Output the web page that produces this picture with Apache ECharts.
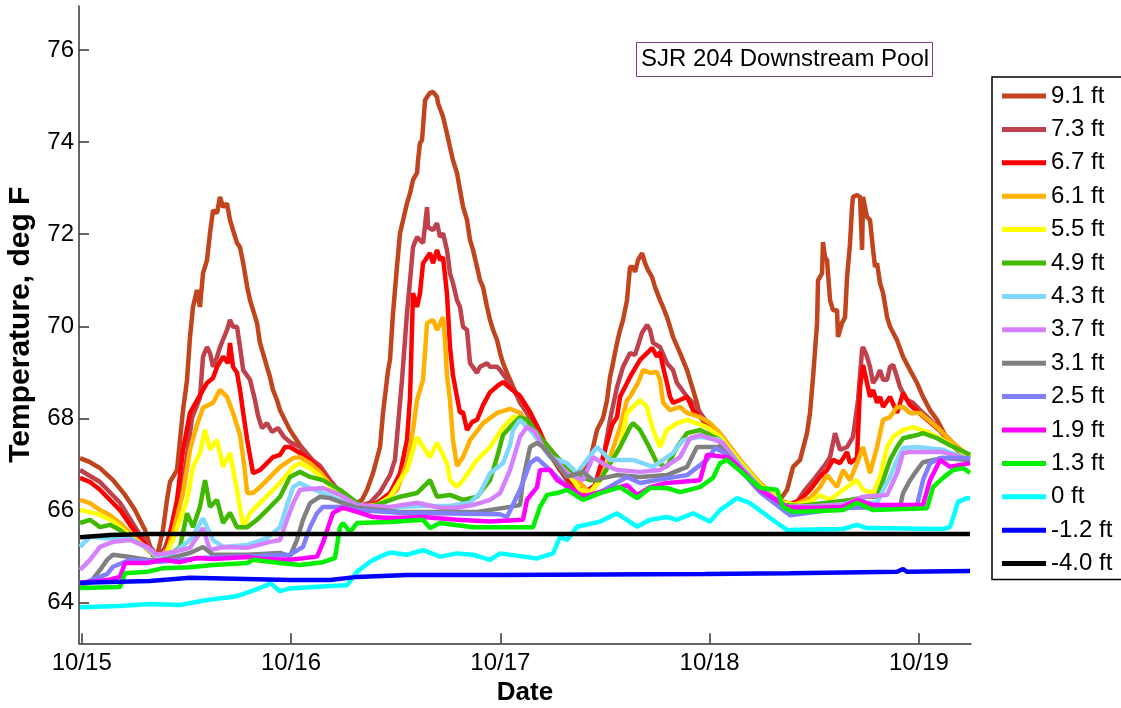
<!DOCTYPE html>
<html>
<head>
<meta charset="utf-8">
<script src="https://cdn.jsdelivr.net/npm/echarts@6/dist/echarts.min.js"></script>
<style>
  html, body { margin: 0; padding: 0; background: #fff; }
  #chart { width: 1121px; height: 708px; }
</style>
</head>
<body>
<div id="chart"></div>
<script>
// Sensor depths (legend order = draw order) and their line colours
const depthLabels = ['9.1 ft', '7.3 ft', '6.7 ft', '6.1 ft', '5.5 ft', '4.9 ft', '4.3 ft', '3.7 ft',
  '3.1 ft', '2.5 ft', '1.9 ft', '1.3 ft', '0 ft', '-1.2 ft', '-4.0 ft'];
const depthColors = ['#c2441c', '#c0404c', '#ff0000', '#ffb000', '#ffff00', '#40b800', '#80d8ff', '#d580ff',
  '#808080', '#8080ff', '#ff00ff', '#00f000', '#00ffff', '#0000ff', '#000000'];

// Tick positions (hours since 10/15 00:00) and labels
const dateTickHours = [0, 24, 48, 72, 96];
const dateTickLabels = ['10/15', '10/16', '10/17', '10/18', '10/19'];
const tempTicks = [64, 66, 68, 70, 72, 74, 76];

// Readings: [hours since 10/15 00:00, temperature deg F]
const d91 = [[-0.19,67.14],[0.95,67.05],[2.10,66.92],[3.59,66.66],[4.97,66.34],[6.11,66.01],[7.26,65.58],[8.18,65.01],[8.75,65.10],[9.32,65.58],[9.78,66.23],[10.12,66.62],[10.93,66.88],[11.27,67.53],[11.62,68.18],[12.08,68.84],[12.42,69.77],[12.76,70.42],[13.22,70.79],[13.56,70.42],[13.91,71.15],[14.37,71.44],[14.71,72.02],[15.06,72.52],[15.52,72.46],[15.86,72.81],[16.21,72.59],[16.66,72.67],[17.00,72.31],[17.35,72.09],[17.81,71.81],[18.15,71.72],[18.52,71.37],[18.98,70.85],[19.30,70.57],[19.65,70.35],[20.10,70.07],[20.44,69.64],[20.79,69.42],[21.24,69.12],[21.59,68.90],[21.93,68.62],[22.39,68.40],[22.74,68.18],[23.88,67.75],[25.03,67.42],[26.18,67.16],[27.32,66.88],[28.47,66.62],[29.62,66.40],[30.77,66.23],[31.57,66.17],[32.14,66.23],[32.72,66.45],[33.40,66.81],[34.21,67.38],[34.55,68.12],[35.13,69.05],[35.35,69.27],[35.70,70.29],[36.15,71.29],[36.50,72.02],[37.30,72.67],[37.65,72.89],[37.99,73.18],[38.45,73.33],[38.57,73.61],[38.79,73.98],[39.02,74.04],[39.14,74.33],[39.37,74.91],[39.60,74.98],[39.94,75.07],[40.28,75.09],[40.74,74.98],[40.85,74.85],[41.43,74.55],[41.88,74.19],[42.23,73.89],[42.57,73.61],[43.03,73.33],[43.38,72.96],[43.72,72.60],[44.18,72.31],[44.53,71.87],[44.87,71.66],[45.33,71.29],[45.67,71.00],[46.02,70.85],[46.48,70.42],[46.82,70.14],[47.17,69.92],[47.63,69.70],[47.97,69.42],[48.31,69.20],[48.77,68.99],[49.11,68.84],[50.26,68.34],[51.06,68.12],[52.55,67.60],[54.51,67.16],[55.99,66.73],[56.34,66.66],[57.14,66.81],[58.29,67.10],[59.09,67.75],[59.78,68.01],[60.24,68.40],[60.58,68.90],[60.92,69.20],[61.38,69.64],[61.73,69.92],[62.07,70.14],[62.53,70.57],[62.87,71.29],[63.22,71.29],[63.45,71.18],[63.79,71.44],[64.25,71.59],[64.60,71.37],[64.94,71.22],[65.40,71.07],[65.74,70.85],[66.31,70.57],[66.66,70.42],[67.11,70.20],[67.46,69.99],[67.80,69.77],[68.61,69.42],[69.41,69.05],[70.10,68.62],[70.55,68.34],[70.90,68.04],[72.05,67.75],[74.34,67.21],[76.63,66.71],[78.93,66.34],[80.07,66.23],[80.88,66.45],[81.57,66.95],[82.37,67.10],[83.17,67.68],[83.51,68.12],[83.86,68.90],[84.32,70.07],[84.43,71.00],[84.89,71.15],[85.00,71.83],[85.23,71.50],[85.46,71.44],[85.81,70.57],[86.15,70.35],[86.61,70.35],[86.72,69.77],[87.18,70.07],[87.53,70.20],[87.76,71.07],[88.10,71.80],[88.33,72.59],[88.44,72.81],[88.90,72.85],[89.25,72.81],[89.48,71.66],[89.59,72.81],[90.05,72.37],[90.39,72.31],[90.74,71.66],[90.97,71.29],[91.20,71.37],[91.54,70.94],[91.89,70.72],[92.35,70.20],[92.69,69.99],[93.49,69.70],[94.18,69.34],[94.98,69.05],[95.78,68.77],[96.47,68.47],[97.27,68.18],[98.08,67.97],[98.99,67.64],[100.14,67.38],[101.06,67.21],[101.86,67.14]];

const d73 = [[-0.19,66.88],[2.10,66.62],[4.39,66.17],[6.69,65.47],[8.75,65.01],[9.55,65.19],[10.70,65.80],[11.85,66.88],[12.65,68.01],[13.56,68.45],[13.91,69.34],[14.37,69.55],[14.71,69.42],[15.06,69.12],[15.52,69.34],[15.86,69.55],[16.66,69.92],[17.00,70.14],[17.35,69.99],[17.81,69.99],[18.15,69.55],[18.52,69.05],[19.30,68.84],[19.87,68.40],[20.21,68.07],[20.67,67.79],[21.24,67.90],[21.82,67.71],[22.51,67.79],[23.19,67.60],[23.88,67.49],[25.03,67.38],[26.18,67.14],[27.32,66.97],[28.47,66.66],[29.62,66.40],[30.77,66.19],[31.91,66.10],[33.06,66.17],[34.21,66.40],[35.35,66.77],[35.92,67.10],[36.73,68.84],[37.30,70.29],[37.65,71.00],[37.99,71.72],[38.45,71.94],[38.79,71.87],[39.14,71.81],[39.60,72.59],[39.71,72.15],[40.28,72.09],[40.74,72.24],[41.09,71.94],[41.43,72.02],[41.88,71.66],[42.23,71.15],[42.57,70.94],[43.03,70.57],[43.38,70.42],[43.72,69.99],[44.18,69.92],[44.53,69.20],[45.33,68.99],[45.67,69.12],[46.48,69.20],[46.82,69.12],[47.63,69.12],[47.97,69.05],[48.77,68.84],[50.26,68.40],[51.41,68.01],[52.55,67.60],[53.70,67.21],[54.85,66.88],[55.99,66.55],[57.14,66.34],[58.06,66.27],[58.86,66.55],[59.78,67.10],[60.58,67.97],[61.38,68.68],[62.07,69.12],[62.87,69.42],[63.45,69.38],[64.25,69.86],[64.82,70.03],[65.17,69.92],[65.51,69.64],[66.31,69.55],[67.11,69.20],[67.80,69.05],[68.26,68.77],[68.61,68.68],[69.41,68.47],[70.33,68.29],[71.47,67.97],[73.19,67.53],[75.49,66.99],[77.78,66.51],[80.07,66.17],[81.80,66.12],[82.94,66.45],[84.09,66.71],[85.23,66.99],[85.81,67.16],[86.38,67.68],[86.95,67.32],[87.76,67.38],[88.44,67.60],[89.02,68.40],[89.48,69.49],[89.59,69.55],[90.05,69.34],[90.39,69.12],[90.74,68.77],[91.20,68.90],[91.54,69.05],[91.89,68.84],[92.35,68.84],[92.69,69.12],[93.04,69.16],[93.49,68.90],[93.83,68.68],[94.64,68.40],[95.32,68.34],[96.13,68.18],[96.93,68.04],[97.85,67.86],[98.99,67.60],[100.14,67.36],[101.06,67.21],[101.86,67.14]];

const d67 = [[-0.19,66.71],[0.95,66.62],[2.10,66.45],[3.25,66.23],[4.39,66.01],[5.54,65.69],[6.69,65.40],[7.83,65.14],[8.98,64.97],[9.55,65.01],[10.12,65.51],[10.93,66.23],[11.62,67.32],[12.42,68.12],[13.91,68.62],[14.37,68.77],[15.06,68.88],[15.52,69.12],[16.21,69.34],[16.78,69.20],[17.00,69.64],[17.35,69.12],[17.81,68.99],[18.15,68.62],[18.52,68.12],[18.98,67.53],[19.65,66.81],[20.44,66.88],[21.24,67.03],[21.93,67.16],[22.74,67.21],[23.31,67.38],[23.88,67.38],[25.03,67.25],[26.18,67.10],[27.32,66.88],[28.47,66.60],[29.62,66.34],[30.77,66.17],[31.91,66.08],[33.06,66.12],[33.86,66.17],[35.35,66.38],[36.50,66.81],[37.30,67.53],[37.65,68.47],[37.99,70.72],[38.45,70.42],[38.79,70.72],[39.14,71.37],[39.94,71.59],[40.28,71.37],[40.74,71.66],[41.09,71.44],[41.43,71.50],[41.88,70.72],[42.23,69.55],[42.57,68.94],[43.03,68.47],[43.38,68.12],[43.72,68.14],[44.18,67.75],[44.76,67.92],[45.33,67.97],[46.02,68.29],[46.82,68.57],[47.63,68.70],[48.31,68.79],[49.11,68.66],[50.26,68.49],[51.41,68.14],[52.55,67.71],[53.70,67.21],[54.85,66.88],[55.99,66.66],[56.91,66.51],[57.71,66.40],[58.86,66.55],[60.01,67.32],[60.81,67.86],[61.38,68.03],[61.73,68.47],[62.53,68.77],[62.87,68.90],[64.02,69.27],[64.82,69.42],[65.40,69.53],[65.97,69.34],[66.31,69.44],[66.66,69.12],[67.11,68.77],[67.46,68.47],[67.80,68.34],[68.61,68.40],[69.41,68.47],[70.10,68.18],[70.90,68.03],[72.05,67.86],[73.19,67.60],[75.49,67.05],[77.78,66.55],[80.07,66.19],[81.22,66.14],[82.37,66.23],[83.51,66.45],[84.66,66.73],[85.46,66.88],[86.15,67.10],[86.95,67.03],[87.76,67.27],[88.10,67.03],[88.90,67.14],[89.25,68.68],[89.59,69.16],[90.05,68.77],[90.39,68.47],[90.74,68.62],[91.20,68.34],[91.54,68.47],[91.89,68.25],[92.69,68.47],[93.49,68.12],[94.18,68.55],[94.98,68.29],[95.78,68.16],[96.93,67.97],[98.76,67.68],[100.37,67.38],[101.86,67.16]];

const d61 = [[-0.19,66.23],[0.95,66.16],[2.10,66.01],[3.25,65.90],[4.39,65.73],[5.54,65.51],[6.69,65.30],[7.83,65.10],[8.98,64.99],[9.78,65.14],[10.47,65.51],[11.62,66.38],[12.42,67.32],[13.22,67.86],[13.91,68.23],[15.06,68.34],[15.86,68.62],[16.66,68.47],[17.35,68.12],[18.15,67.64],[18.63,66.99],[18.98,66.38],[19.65,66.38],[20.44,66.51],[21.24,66.66],[22.74,66.95],[24.25,67.14],[25.03,67.16],[26.18,67.03],[27.32,66.84],[28.47,66.58],[29.62,66.34],[30.77,66.17],[31.91,66.08],[33.06,66.10],[34.55,66.17],[36.15,66.45],[37.30,67.03],[37.99,67.75],[38.45,68.40],[39.14,68.84],[39.60,70.07],[40.28,70.14],[40.74,69.92],[41.43,70.20],[41.66,69.70],[41.88,68.94],[42.23,68.40],[42.57,67.53],[43.03,66.97],[43.72,67.16],[44.53,67.53],[46.02,67.90],[47.63,68.12],[49.11,68.21],[50.26,68.12],[51.75,67.75],[53.70,67.32],[55.65,66.88],[57.14,66.60],[58.29,66.38],[59.43,66.66],[60.58,67.16],[61.73,67.81],[62.53,68.40],[62.87,68.47],[63.79,68.77],[64.37,69.05],[65.17,68.99],[65.97,69.01],[66.31,68.84],[66.66,68.34],[67.46,68.18],[68.61,68.25],[69.41,68.12],[70.90,68.03],[72.05,67.90],[73.19,67.68],[75.49,67.10],[77.78,66.60],[80.07,66.23],[81.57,66.12],[83.51,66.27],[84.66,66.51],[85.46,66.77],[86.61,66.51],[87.30,66.88],[88.10,66.66],[88.90,67.03],[89.59,67.38],[90.39,66.81],[91.20,67.38],[91.89,67.97],[92.69,68.03],[93.49,68.25],[94.18,68.25],[94.98,68.12],[96.13,68.12],[98.08,67.81],[99.57,67.53],[101.86,67.16]];

const d55 = [[-0.19,66.01],[0.95,65.97],[2.10,65.90],[3.25,65.80],[4.39,65.64],[6.11,65.36],[7.49,65.19],[8.98,64.93],[9.78,65.10],[10.47,65.36],[11.27,65.80],[12.08,66.23],[12.76,66.95],[13.56,67.25],[14.14,67.75],[14.71,67.32],[15.52,67.53],[16.21,66.95],[17.00,67.25],[17.81,66.45],[18.52,65.64],[19.30,65.95],[20.79,66.23],[22.74,66.60],[24.25,66.95],[25.03,67.03],[26.18,66.92],[27.32,66.75],[28.47,66.53],[29.62,66.32],[30.77,66.17],[31.91,66.08],[33.86,66.12],[35.35,66.30],[36.50,66.66],[37.30,66.88],[38.45,67.60],[39.14,67.38],[39.94,67.16],[40.74,67.47],[41.88,67.03],[42.23,66.66],[43.03,66.51],[43.72,66.66],[45.33,67.10],[46.82,67.38],[48.31,67.81],[49.45,68.03],[50.60,68.01],[52.21,67.68],[54.05,67.16],[56.34,66.66],[57.14,66.45],[58.29,66.40],[59.43,66.66],[60.58,67.03],[61.73,67.38],[62.53,68.12],[63.22,68.25],[64.02,68.40],[64.82,68.25],[65.51,67.75],[66.31,67.38],[67.11,67.75],[68.26,67.90],[69.41,67.97],[71.70,67.81],[73.19,67.60],[75.49,67.05],[77.78,66.55],[80.42,66.17],[82.03,66.12],[83.51,66.19],[84.66,66.34],[85.81,66.23],[87.30,66.45],[88.90,66.66],[89.59,66.45],[90.74,66.38],[91.54,66.73],[92.35,67.38],[93.04,67.60],[94.18,67.75],[95.32,67.81],[96.93,67.71],[98.76,67.53],[101.86,67.16]];

const d49 = [[-0.19,65.73],[0.95,65.80],[2.10,65.64],[3.25,65.69],[4.39,65.58],[5.89,65.36],[7.49,65.19],[8.98,64.93],[10.12,65.04],[11.27,65.21],[12.08,65.94],[12.76,65.64],[13.56,66.08],[14.14,66.66],[14.71,66.08],[15.52,66.23],[16.21,65.73],[17.00,65.95],[17.81,65.64],[18.98,65.64],[20.10,65.80],[21.24,66.01],[22.74,66.30],[23.88,66.73],[25.03,66.84],[26.18,66.73],[27.66,66.66],[29.62,66.45],[31.57,66.17],[32.72,66.06],[34.55,66.17],[36.50,66.30],[38.45,66.38],[39.94,66.66],[40.74,66.30],[42.23,66.34],[43.72,66.23],[45.33,66.30],[46.82,66.66],[47.63,67.16],[48.31,67.64],[49.11,67.81],[50.26,68.03],[51.06,67.97],[52.55,67.60],[54.05,67.25],[55.65,66.95],[57.14,66.73],[58.29,66.66],[59.43,66.66],[61.73,67.38],[62.87,67.81],[63.22,67.90],[64.02,67.75],[64.82,67.47],[65.97,67.03],[67.11,66.95],[68.26,67.38],[69.41,67.68],[70.90,67.75],[73.19,67.53],[75.49,66.99],[77.78,66.51],[80.42,66.12],[82.37,66.10],[85.46,66.17],[88.10,66.23],[90.05,66.30],[91.20,66.30],[91.89,66.66],[92.69,67.10],[93.49,67.38],[94.18,67.57],[95.78,67.64],[96.47,67.68],[98.08,67.57],[99.57,67.42],[101.86,67.21]];

const d43 = [[-0.19,65.21],[0.95,65.43],[2.91,65.40],[5.54,65.40],[7.49,65.19],[8.98,64.93],[10.70,65.10],[12.42,65.36],[13.91,65.83],[15.06,65.36],[16.21,65.21],[18.98,65.25],[21.24,65.40],[22.74,65.64],[23.54,66.12],[24.25,66.51],[25.03,66.60],[26.18,66.49],[27.90,66.36],[29.62,66.23],[31.57,66.06],[34.21,66.06],[38.79,66.10],[42.23,66.10],[44.53,66.17],[45.67,66.38],[46.82,66.81],[48.31,67.03],[49.11,67.42],[49.45,67.75],[50.26,67.97],[51.75,67.68],[53.70,67.16],[55.65,67.03],[56.80,66.81],[57.94,67.10],[59.09,67.38],[60.58,67.10],[63.22,67.10],[65.51,66.95],[67.80,67.25],[68.95,67.53],[70.90,67.60],[73.19,67.53],[75.49,66.99],[77.78,66.49],[80.88,66.08],[84.66,66.10],[89.59,66.17],[91.20,66.17],[91.89,66.45],[92.69,66.73],[93.49,67.10],[94.18,67.36],[95.78,67.38],[98.76,67.32],[101.86,67.10]];

const d37 = [[-0.19,64.71],[0.95,64.93],[2.10,65.21],[3.59,65.32],[5.54,65.36],[7.49,65.21],[8.64,65.04],[10.47,65.10],[12.42,65.19],[13.91,65.62],[14.71,65.14],[16.21,65.21],[18.98,65.19],[21.59,65.32],[22.74,65.36],[23.54,65.80],[24.25,66.16],[25.03,66.45],[27.66,66.49],[29.62,66.34],[31.57,66.12],[35.35,66.08],[38.45,66.17],[41.09,66.06],[43.03,66.06],[44.87,66.12],[46.82,66.23],[47.97,66.38],[49.11,66.88],[50.26,67.60],[51.06,67.82],[51.98,67.71],[52.89,67.38],[55.65,66.81],[57.48,66.66],[58.63,67.16],[60.01,66.99],[61.38,66.88],[64.02,66.84],[66.31,66.88],[68.61,67.16],[69.75,67.57],[70.90,67.64],[72.05,67.57],[73.53,67.47],[75.49,66.95],[77.78,66.49],[80.88,66.08],[87.30,66.12],[89.59,66.30],[92.35,66.34],[93.49,66.81],[94.18,67.25],[94.98,67.27],[98.76,67.27],[101.86,67.10]];

const d31 = [[-0.19,64.40],[0.95,64.43],[2.10,64.71],[2.91,64.93],[3.59,65.04],[5.54,64.99],[7.49,64.93],[8.98,64.91],[12.42,65.08],[13.91,65.21],[15.06,65.04],[18.98,65.04],[22.74,65.08],[23.88,65.01],[24.68,65.36],[25.37,65.80],[26.18,66.16],[27.32,66.30],[28.47,66.27],[29.62,66.19],[31.57,66.06],[36.50,65.97],[45.33,65.97],[49.11,66.08],[50.26,66.12],[50.60,66.66],[51.41,67.38],[52.21,67.47],[52.89,67.38],[55.65,66.73],[57.48,66.84],[58.63,66.66],[61.38,66.77],[64.02,66.73],[67.11,66.77],[69.41,66.95],[70.55,67.38],[73.19,67.38],[75.49,66.92],[77.78,66.45],[80.88,66.06],[93.83,66.08],[94.18,66.38],[94.98,66.66],[95.78,66.88],[96.47,67.05],[98.76,67.14],[101.86,67.10]];

const d25 = [[-0.19,64.40],[2.91,64.62],[3.59,64.78],[5.54,64.93],[8.98,64.89],[13.56,64.97],[19.30,65.01],[23.88,65.04],[25.37,65.21],[26.18,65.64],[26.98,65.94],[27.66,66.08],[29.62,66.08],[31.57,66.01],[36.50,65.95],[47.97,65.92],[48.77,65.86],[50.26,66.45],[51.41,67.03],[52.21,67.14],[53.70,66.88],[55.65,66.51],[57.48,66.27],[59.43,66.40],[62.53,66.73],[64.02,66.60],[67.11,66.70],[69.41,66.77],[71.70,67.10],[72.62,67.36],[73.53,67.27],[75.49,66.88],[77.78,66.40],[81.22,65.90],[87.30,66.05],[95.78,66.12],[96.47,66.66],[97.27,67.03],[98.42,67.14],[101.86,67.14]];

const d19 = [[-0.19,64.43],[2.91,64.49],[4.39,64.56],[4.97,64.86],[7.49,64.86],[9.32,64.93],[11.27,64.88],[13.22,64.97],[15.06,64.95],[18.98,64.99],[20.79,64.95],[23.88,64.93],[26.98,65.00],[27.66,65.30],[28.81,65.95],[29.96,66.06],[31.57,65.97],[33.40,65.86],[35.35,65.84],[39.14,65.86],[43.03,65.80],[46.82,65.76],[50.60,65.80],[51.06,66.23],[52.21,66.51],[52.55,66.88],[53.70,66.88],[54.51,66.66],[56.34,66.45],[57.48,66.30],[59.43,66.40],[62.53,66.55],[63.68,66.34],[65.17,66.51],[67.11,66.60],[70.90,66.66],[71.70,67.21],[73.99,67.16],[75.15,66.99],[77.78,66.45],[80.88,66.08],[83.51,66.05],[87.30,66.08],[88.90,66.23],[90.74,66.12],[96.47,66.12],[97.27,66.66],[98.42,67.10],[99.57,66.95],[100.71,66.99],[101.86,67.03]];

const d13 = [[-0.19,64.32],[4.39,64.34],[4.97,64.64],[7.49,64.67],[9.32,64.75],[12.42,64.77],[15.06,64.82],[18.98,64.86],[19.65,64.93],[22.74,64.86],[25.03,64.82],[27.66,64.88],[29.04,64.97],[29.62,65.64],[29.96,65.73],[30.77,65.53],[31.57,65.73],[35.35,65.75],[39.14,65.80],[39.94,65.62],[41.09,65.73],[44.87,65.64],[49.11,65.64],[51.75,65.64],[52.55,66.08],[53.36,66.34],[54.51,66.38],[55.65,66.45],[57.48,66.23],[59.43,66.38],[61.73,66.51],[63.68,66.27],[65.17,66.49],[67.11,66.49],[68.61,66.40],[70.90,66.51],[72.39,66.71],[73.19,67.03],[73.99,67.10],[75.15,66.92],[77.78,66.49],[79.73,66.45],[80.42,66.08],[81.57,65.97],[87.30,66.01],[88.90,66.17],[90.74,66.01],[96.93,66.05],[97.62,66.51],[98.76,66.71],[99.91,66.88],[101.06,66.92],[101.86,66.82]];

const d00 = [[-0.19,63.90],[4.39,63.93],[7.83,63.97],[11.27,63.95],[14.37,64.06],[17.81,64.14],[19.87,64.28],[21.24,64.38],[21.59,64.43],[22.74,64.25],[23.88,64.31],[28.47,64.36],[30.42,64.38],[31.57,64.67],[33.06,64.89],[34.21,65.00],[35.35,65.09],[37.30,65.04],[39.14,65.14],[41.09,65.00],[43.03,65.07],[44.87,65.04],[46.82,64.93],[47.97,65.07],[52.21,64.96],[54.05,65.07],[54.85,65.43],[55.65,65.36],[56.80,65.65],[59.43,65.76],[61.38,65.94],[63.68,65.65],[65.17,65.80],[67.11,65.86],[68.26,65.80],[70.10,65.94],[72.05,65.76],[73.19,66.01],[75.15,66.27],[76.63,66.16],[79.73,65.73],[80.88,65.58],[87.30,65.60],[88.90,65.69],[90.05,65.62],[98.76,65.60],[99.57,65.64],[100.48,66.19],[101.52,66.27],[101.86,66.27]];

const dm12 = [[-0.19,64.43],[7.83,64.47],[12.42,64.54],[23.88,64.49],[28.47,64.49],[31.57,64.56],[37.30,64.60],[47.97,64.60],[71.47,64.62],[81.22,64.64],[93.49,64.67],[94.18,64.73],[94.64,64.67],[101.86,64.69]];

const dm40 = [[-0.19,65.42],[3.25,65.47],[7.83,65.49],[101.86,65.49]];

const depthData = [d91, d73, d67, d61, d55, d49, d43, d37, d31, d25, d19, d13, d00, dm12, dm40];

const chart = echarts.init(document.getElementById('chart'), null, { renderer: 'canvas' });

const font = 'Liberation Sans, Arial, Helvetica, sans-serif';

chart.setOption({
  animation: false,
  backgroundColor: '#ffffff',
  title: {
    text: 'SJR 204 Downstream Pool',
    left: 636,
    top: 42,
    padding: [5, 4, 6, 5],
    borderColor: '#74407a',
    borderWidth: 1,
    textStyle: { fontFamily: font, fontSize: 24, fontWeight: 'normal', color: '#000', lineHeight: 24 }
  },
  legend: {
    orient: 'vertical',
    left: 992,
    top: 77,
    padding: [7, 12, 4, 10],
    borderColor: '#000',
    borderWidth: 1.5,
    icon: 'rect',
    itemWidth: 44,
    itemHeight: 5,
    itemGap: 9.4,
    selectedMode: false,
    data: depthLabels,
    textStyle: { fontFamily: font, fontSize: 24, color: '#000', lineHeight: 24 }
  },
  grid: { left: 79, right: 150, top: 6, bottom: 64.7, outerBoundsMode: 'none' },
  xAxis: {
    type: 'value',
    min: -0.31,
    max: 101.97,
    name: 'Date',
    nameLocation: 'middle',
    nameGap: 34,
    nameTextStyle: { fontFamily: font, fontSize: 26, fontWeight: 'bold', color: '#000' },
    axisLine: { onZero: false, lineStyle: { color: '#333', width: 1.5 } },
    axisTick: { inside: true, length: 10, customValues: dateTickHours, lineStyle: { color: '#333', width: 1.5 } },
    axisLabel: {
      customValues: dateTickHours,
      margin: 8,
      fontFamily: font,
      fontSize: 24,
      color: '#000',
      formatter: v => dateTickLabels[dateTickHours.indexOf(v)] || ''
    },
    splitLine: { show: false }
  },
  yAxis: {
    type: 'value',
    min: 63.118,
    max: 76.955,
    name: 'Temperature, deg F',
    nameLocation: 'middle',
    nameGap: 43,
    nameTextStyle: { fontFamily: font, fontSize: 30, fontWeight: 'bold', color: '#000' },
    axisLine: { onZero: false, lineStyle: { color: '#333', width: 1.5 } },
    axisTick: { inside: true, length: 10, customValues: tempTicks, lineStyle: { color: '#333', width: 1.5 } },
    axisLabel: { customValues: tempTicks, margin: 5, fontFamily: font, fontSize: 24, color: '#000' },
    splitLine: { show: false }
  },
  series: depthLabels.map((label, i) => ({
    name: label,
    type: 'line',
    data: depthData[i],
    showSymbol: false,
    symbol: 'none',
    silent: true,
    clip: true,
    color: depthColors[i],
    lineStyle: { color: depthColors[i], width: 4.5 }
  }))
});
</script>
</body>
</html>
